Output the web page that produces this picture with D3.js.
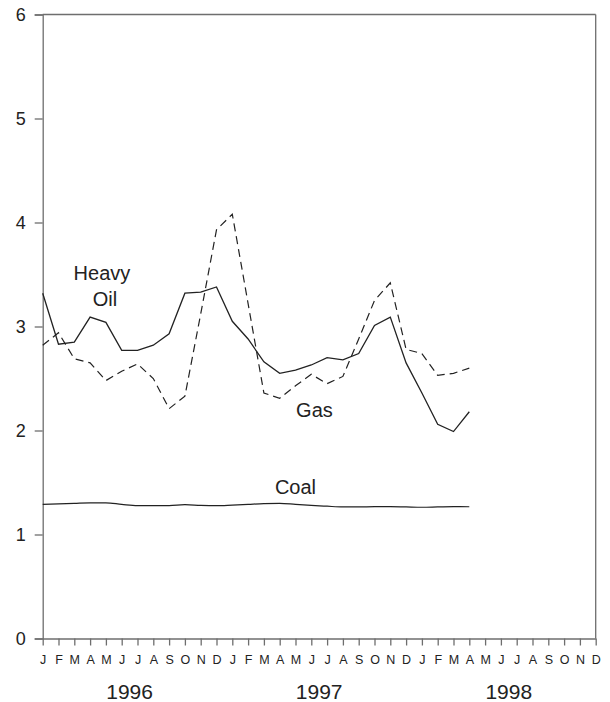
<!DOCTYPE html>
<html>
<head>
<meta charset="utf-8">
<script src="https://cdn.jsdelivr.net/npm/d3@7"></script>
<style>
  html, body { margin: 0; padding: 0; background: #fff; }
  svg { display: block; }
  text { font-family: "Liberation Sans", Arial, sans-serif; fill: #222; }
</style>
</head>
<body>
<svg id="chart" width="610" height="702"></svg>
<script>
// ---- data ----
const monthLetters = ["J","F","M","A","M","J","J","A","S","O","N","D"];
const years = ["1996","1997","1998"];
const yTicks = [0,1,2,3,4,5,6];

// Monthly values, Jan 1996 – Apr 1998
const heavyOil = [3.32,2.83,2.85,3.09,3.04,2.77,2.77,2.82,2.93,3.32,3.33,3.38,
                  3.05,2.88,2.66,2.55,2.58,2.63,2.70,2.68,2.74,3.01,3.09,2.65,
                  2.36,2.06,1.99,2.18];
const gas = [2.82,2.94,2.69,2.65,2.48,2.57,2.64,2.50,2.21,2.33,3.12,3.93,
             4.08,3.22,2.36,2.31,2.43,2.54,2.45,2.52,2.88,3.25,3.42,2.78,
             2.74,2.53,2.55,2.60];
const coal = [1.290,1.295,1.300,1.305,1.305,1.290,1.278,1.278,1.278,1.287,1.280,1.277,
              1.283,1.290,1.297,1.300,1.290,1.280,1.272,1.265,1.265,1.268,1.268,1.265,
              1.262,1.265,1.268,1.267];

const seriesLabels = [
  {name: "Heavy Oil", lines: ["Heavy","Oil"], idx: 3.75, val: 3.445},
  {name: "Gas", lines: ["Gas"], idx: 17.2, val: 2.13},
  {name: "Coal", lines: ["Coal"], idx: 16.0, val: 1.39}
];

// ---- layout ----
const svg = d3.select("#chart");
const mLeft = 42.7, mRight = 595.7, mTop = 14.5, mBottom = 638.5;

const monthKeys = [];
years.forEach(yr => monthLetters.forEach((m, i) => monthKeys.push(yr + "-" + i)));

const x = d3.scalePoint().domain(monthKeys).range([mLeft, mRight]).padding(0);
const y = d3.scaleLinear().domain([0, 6]).range([mBottom, mTop]);
const xi = i => x(monthKeys[i]);

const axisColor = "#6e6e6e";

// frame top/right
svg.append("line").attr("x1", mLeft).attr("x2", mRight).attr("y1", mTop).attr("y2", mTop)
  .attr("stroke", axisColor).attr("stroke-width", 1.3);
svg.append("line").attr("x1", mRight).attr("x2", mRight).attr("y1", mTop).attr("y2", mBottom)
  .attr("stroke", axisColor).attr("stroke-width", 1.3);

// y axis
const yAxis = d3.axisLeft(y).tickValues(yTicks).tickFormat(d3.format("d"))
  .tickSize(8).tickPadding(9);
const gy = svg.append("g").attr("transform", `translate(${mLeft},0)`).call(yAxis);
gy.select(".domain").attr("stroke", axisColor).attr("stroke-width", 1.3);
gy.selectAll(".tick line").attr("stroke", axisColor).attr("stroke-width", 1.3);
gy.selectAll(".tick text").attr("font-size", 18).attr("fill", "#222")
  .attr("font-family", "Liberation Sans, Arial, sans-serif");

// x axis
const xAxis = d3.axisBottom(x).tickFormat(k => monthLetters[+k.split("-")[1]])
  .tickSize(7).tickPadding(10).tickSizeOuter(0);
const gx = svg.append("g").attr("transform", `translate(0,${mBottom})`).call(xAxis);
gx.select(".domain").attr("stroke", axisColor).attr("stroke-width", 1.3);
gx.selectAll(".tick line").attr("stroke", axisColor).attr("stroke-width", 1.3);
gx.selectAll(".tick text").attr("font-size", 12.5).attr("fill", "#222")
  .attr("font-family", "Liberation Sans, Arial, sans-serif");

// year labels
svg.selectAll("text.year").data(years).enter().append("text")
  .attr("class", "year")
  .attr("x", (d) => (x(d + "-0") + x(d + "-11")) / 2)
  .attr("y", 699)
  .attr("text-anchor", "middle")
  .attr("font-size", 21)
  .text(d => d);

// lines
const line = d3.line().x((d, i) => xi(i)).y(d => y(d));
svg.append("path").datum(heavyOil).attr("d", line)
  .attr("fill", "none").attr("stroke", "#222").attr("stroke-width", 1.3);
svg.append("path").datum(gas).attr("d", line)
  .attr("fill", "none").attr("stroke", "#222").attr("stroke-width", 1.2)
  .attr("stroke-dasharray", "8,5");
const smooth = d3.line().x((d, i) => xi(i)).y(d => y(d)).curve(d3.curveMonotoneX);
svg.append("path").datum(coal).attr("d", smooth)
  .attr("fill", "none").attr("stroke", "#222").attr("stroke-width", 1.2);

// series labels
const lx = d3.scaleLinear().domain([0, 35]).range([mLeft, mRight]);
seriesLabels.forEach(s => {
  const t = svg.append("text")
    .attr("text-anchor", "middle")
    .attr("font-size", 20);
  s.lines.forEach((ln, j) => {
    t.append("tspan").attr("x", lx(s.idx) + (j === 1 ? 3 : 0))
      .attr("y", y(s.val) + j * 26).text(ln);
  });
});
</script>
</body>
</html>
